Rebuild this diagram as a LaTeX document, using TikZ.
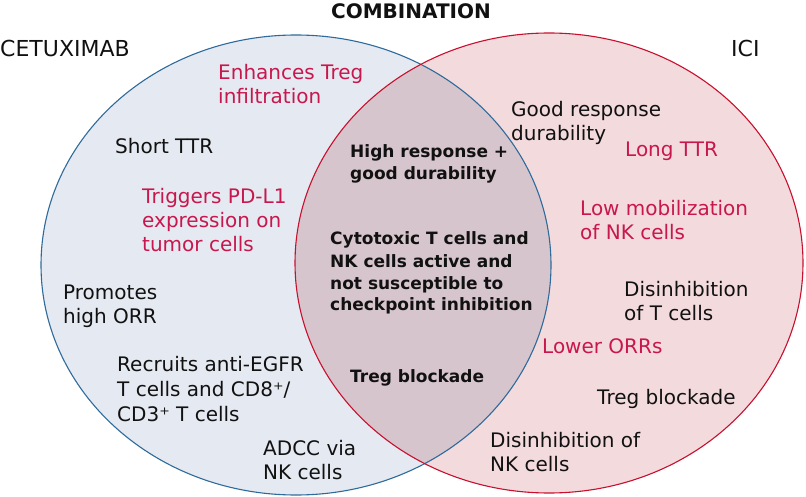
\documentclass[tikz,border=0pt]{standalone}
\usepackage{fontspec}
\setmainfont{DejaVu Sans}
\definecolor{bluefill}{HTML}{E5E9F2}
\definecolor{redfill}{HTML}{F3DADD}
\definecolor{midfill}{HTML}{D7C5CD}
\definecolor{blueedge}{HTML}{2E6A9A}
\definecolor{rededge}{HTML}{C8102E}
\definecolor{crimson}{HTML}{C8174C}
\definecolor{ink}{HTML}{111111}
\newcommand\vl[2]{\vtop{\baselineskip=#1\lineskiplimit=-30pt\lineskip=0pt #2}}
\tikzset{
  reg/.style={anchor=base west, inner sep=0pt, text=ink, font=\fontsize{20}{24}\selectfont},
  hot/.style={reg, text=crimson},
  bld/.style={anchor=base west, inner sep=0pt, text=ink, font=\bfseries\fontsize{17}{22}\selectfont},
  ttl/.style={anchor=base, inner sep=0pt, text=ink, font=\fontsize{22}{26}\selectfont}
}
\begin{document}
\begin{tikzpicture}[x=1pt,y=-1pt]
\useasboundingbox (0,0) rectangle (806,497);
\fill[white] (0,0) rectangle (806,497);
% circles
\fill[bluefill] (296,265) ellipse [x radius=255pt, y radius=230pt];
\fill[redfill] (549,263) ellipse [x radius=254pt, y radius=230pt];
\begin{scope}
  \clip (296,265) ellipse [x radius=255pt, y radius=230pt];
  \fill[midfill] (549,263) ellipse [x radius=254pt, y radius=230pt];
\end{scope}
\draw[blueedge, line width=1.1pt] (296,265) ellipse [x radius=255pt, y radius=230pt];
\draw[rededge, line width=1.1pt] (549,263) ellipse [x radius=254pt, y radius=230pt];
% titles
\node[ttl, font=\bfseries\fontsize{20}{24}\selectfont] (combo) at (411,19) {COMBINATION};
\node[ttl, anchor=base west] (cetux) at (0,57) {CETUXIMAB};
\node[ttl, anchor=base west] (ici) at (731,57) {ICI};
% left
\node[hot] (enh) at (218,80) {\vl{24pt}{\hbox{Enhances Treg}\hbox{infiltration}}};
\node[reg] (sttr) at (115,154) {Short TTR};
\node[hot] (trig) at (142,204) {\vl{24pt}{\hbox{Triggers PD-L1}\hbox{expression on}\hbox{tumor cells}}};
\node[reg] (prom) at (63,299) {\vl{24pt}{\hbox{Promotes}\hbox{high ORR}}};
\node[reg] (recr) at (117,371) {\vl{25pt}{\hbox{Recruits anti-EGFR}\hbox{T cells and CD8⁺/}\hbox{CD3⁺ T cells}}};
\node[reg] (adcc) at (263,455) {\vl{24pt}{\hbox{ADCC via}\hbox{NK cells}}};
% middle
\node[bld] (hrgd) at (350,158) {\vl{22pt}{\hbox{High response +}\hbox{good durability}}};
\node[bld] (cyto) at (330,245) {\vl{22pt}{\hbox{Cytotoxic T cells and}\hbox{NK cells active and}\hbox{not susceptible to}\hbox{checkpoint inhibition}}};
\node[bld] (tbm) at (350,382) {Treg blockade};
% right
\node[reg] (grd) at (511,117) {\vl{24pt}{\hbox{Good response}\hbox{durability}}};
\node[hot] (lttr) at (625,157) {Long TTR};
\node[hot] (lmob) at (580,216) {\vl{24pt}{\hbox{Low mobilization}\hbox{of NK cells}}};
\node[reg] (dist) at (624,296) {\vl{24pt}{\hbox{Disinhibition}\hbox{of T cells}}};
\node[hot] (lorr) at (542,353) {Lower ORRs};
\node[reg] (tbr) at (597,404) {Treg blockade};
\node[reg] (disn) at (490,447) {\vl{24pt}{\hbox{Disinhibition of}\hbox{NK cells}}};
\end{tikzpicture}
\end{document}
